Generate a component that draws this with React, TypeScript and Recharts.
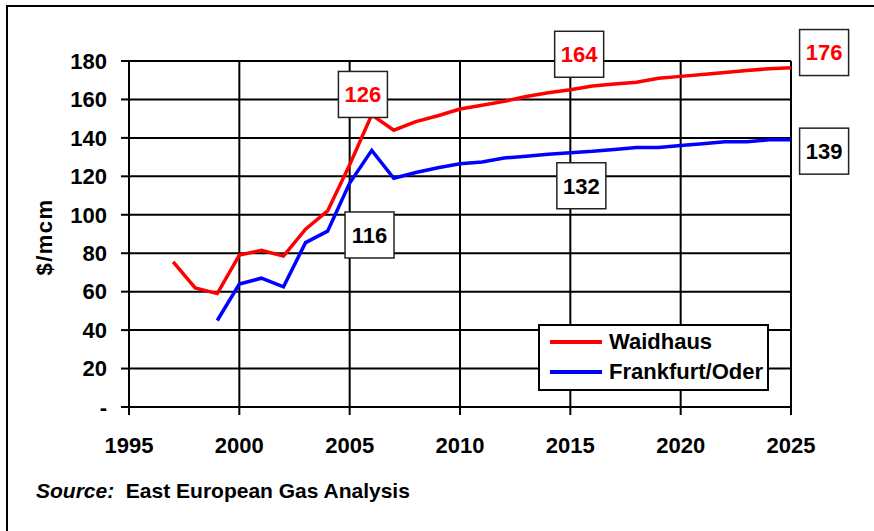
import React from "react";
import {
  LineChart,
  Line,
  XAxis,
  YAxis,
  CartesianGrid,
  Legend,
  ReferenceDot,
  Label,
} from "recharts";

// values ($/mcm)
const years = [
  1997, 1998, 1999, 2000, 2001, 2002, 2003, 2004, 2005, 2006, 2007, 2008, 2009,
  2010, 2011, 2012, 2013, 2014, 2015, 2016, 2017, 2018, 2019, 2020, 2021, 2022,
  2023, 2024, 2025,
];
const waidhaus = [
  75.5, 62, 59, 79, 81.5, 78.5, 92.5, 102, 126, 152, 144, 148.5, 151.5, 155,
  157, 159, 161.5, 163.5, 165, 167, 168, 169, 171, 172, 173, 174, 175, 176,
  176.5,
];
const frankfurt = [
  null, null, 45, 64, 67, 62.5, 85.5, 91.5, 116.5, 133.5, 119, 122, 124.5,
  126.5, 127.5, 129.5, 130.5, 131.5, 132.3, 133, 134, 135, 135, 136, 137, 138,
  138, 139, 139,
];
const seriesNames = ["Waidhaus", "Frankfurt/Oder"];

const xTicks = [1995, 2000, 2005, 2010, 2015, 2020, 2025];
const yTicks = [0, 20, 40, 60, 80, 100, 120, 140, 160, 180];

// boxed value callouts: text, colour and where the box sits (axis units)
const noteTexts = ["126", "116", "164", "132", "176", "139"];
const noteRed = [true, false, true, false, true, false];
const noteX = [2005.6, 2005.9, 2015.4, 2015.5, 2026.5, 2026.5];
const noteY = [162.6, 89.5, 183.5, 115.1, 184.4, 133.1];

const FONT = "Arial, 'Liberation Sans', Helvetica, sans-serif";
const RED = "#ff0000";
const BLUE = "#0000ff";

const data = years.map((year, i) => ({
  year,
  waidhaus: waidhaus[i],
  frankfurt: frankfurt[i],
}));

function NoteBox(props: any) {
  const { cx, cy, text, color } = props;
  return (
    <g>
      <rect
        x={cx - 24.5}
        y={cy - 23}
        width={49}
        height={46}
        fill="#fff"
        stroke="#222"
        strokeWidth={1.5}
      />
      <text
        x={cx}
        y={cy}
        dy="0.36em"
        textAnchor="middle"
        fill={color}
        fontFamily={FONT}
        fontWeight="bold"
        fontSize={22}
      >
        {text}
      </text>
    </g>
  );
}

function LegendBox(props: any) {
  const items = [...(props.payload || [])].sort(
    (a: any, b: any) => seriesNames.indexOf(a.value) - seriesNames.indexOf(b.value)
  );
  return (
    <div
      style={{
        boxSizing: "border-box",
        width: 231,
        height: 67,
        border: "2px solid #000",
        background: "#fff",
        paddingTop: 1,
        paddingLeft: 10,
        fontFamily: FONT,
      }}
    >
      {items.map((it: any) => (
        <div
          key={it.value}
          style={{ display: "flex", alignItems: "center", height: 30 }}
        >
          <span
            style={{
              display: "inline-block",
              width: 52,
              height: 4,
              background: it.color,
              marginRight: 7,
            }}
          />
          <span
            style={{
              fontSize: 22,
              fontWeight: "bold",
              color: "#000",
              lineHeight: "30px",
            }}
          >
            {it.value}
          </span>
        </div>
      ))}
    </div>
  );
}

export default function App() {
  return (
    <div
      style={{
        position: "absolute",
        left: 0,
        top: 0,
        width: 874,
        height: 531,
        background: "#fff",
        overflow: "hidden",
      }}
    >
      <div
        style={{
          position: "absolute",
          left: 6,
          top: 5,
          right: -4,
          bottom: -4,
          borderLeft: "2px solid #000",
          borderTop: "2px solid #000",
        }}
      />
      <LineChart
        width={874}
        height={531}
        data={data}
        margin={{ top: 61, right: 83, left: 0, bottom: 64 }}
      >
        <CartesianGrid stroke="#000" strokeWidth={2} />
        <XAxis
          type="number"
          dataKey="year"
          domain={[1995, 2025]}
          ticks={xTicks}
          interval={0}
          height={60}
          tickSize={8}
          tickMargin={22}
          axisLine={{ stroke: "#000", strokeWidth: 2 }}
          tickLine={{ stroke: "#000", strokeWidth: 2 }}
          tick={{ fill: "#000", fontSize: 22, fontWeight: "bold", fontFamily: FONT }}
        />
        <YAxis
          type="number"
          domain={[0, 180]}
          ticks={yTicks}
          interval={0}
          width={129}
          tickSize={8}
          tickMargin={14}
          tickFormatter={(v: number) => (v === 0 ? "-" : String(v))}
          axisLine={{ stroke: "#000", strokeWidth: 2 }}
          tickLine={{ stroke: "#000", strokeWidth: 2 }}
          tick={{ fill: "#000", fontSize: 22, fontWeight: "bold", fontFamily: FONT }}
        >
          <Label
            value="$/mcm"
            position="center"
            angle={-90}
            dx={-20}
            dy={3}
            style={{
              fill: "#000",
              fontSize: 22,
              fontWeight: "bold",
              fontFamily: FONT,
              letterSpacing: 1.5,
            }}
          />
        </YAxis>
        <Legend
          layout="vertical"
          align="center"
          verticalAlign="middle"
          wrapperStyle={{ left: 538, top: 324, width: 231, height: 67 }}
          content={<LegendBox />}
        />
        <Line
          type="linear"
          dataKey="waidhaus"
          name="Waidhaus"
          stroke={RED}
          strokeWidth={3.5}
          dot={false}
          isAnimationActive={false}
        />
        <Line
          type="linear"
          dataKey="frankfurt"
          name="Frankfurt/Oder"
          stroke={BLUE}
          strokeWidth={3.5}
          dot={false}
          isAnimationActive={false}
        />
        {noteTexts.map((t, i) => (
          <ReferenceDot
            key={t}
            x={noteX[i]}
            y={noteY[i]}
            r={0}
            ifOverflow="visible"
            shape={(p: any) => (
              <NoteBox
                cx={p.cx}
                cy={p.cy}
                text={t}
                color={noteRed[i] ? RED : "#000"}
              />
            )}
          />
        ))}
      </LineChart>
      <div
        style={{
          position: "absolute",
          left: 36,
          top: 480,
          fontFamily: FONT,
          fontSize: 21,
          fontWeight: "bold",
          lineHeight: "21px",
          color: "#000",
          whiteSpace: "pre",
        }}
      >
        <i>Source:</i>
        {"  East European Gas Analysis"}
      </div>
    </div>
  );
}
